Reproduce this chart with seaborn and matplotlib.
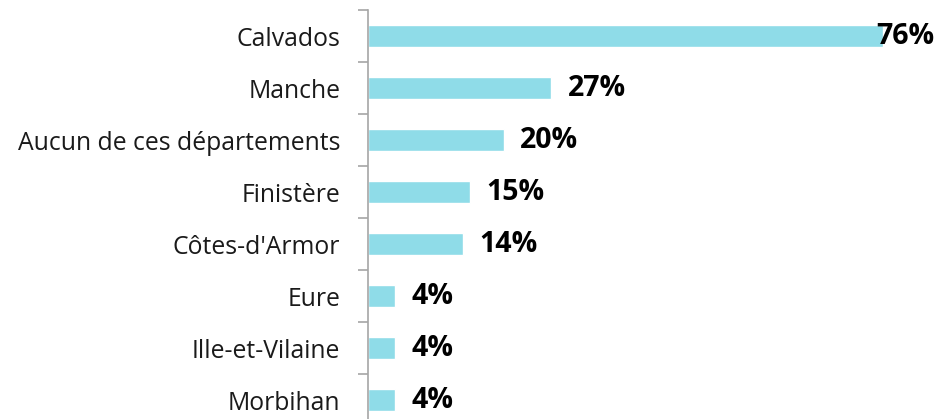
import matplotlib
matplotlib.use("Agg")
import matplotlib.pyplot as plt
import seaborn as sns
import pandas as pd
import numpy as np

categories = ["Calvados", "Manche", "Aucun de ces départements", "Finistère",
              "Côtes-d'Armor", "Eure", "Ille-et-Vilaine", "Morbihan"]
values = [76, 27, 20, 15, 14, 4, 4, 4]
value_labels = ["76%", "27%", "20%", "15%", "14%", "4%", "4%", "4%"]

df = pd.DataFrame({"dep": categories, "pct": values})

sns.set_theme(style="white")
plt.rcParams["font.family"] = ["Open Sans", "DejaVu Sans"]

W, H = 939, 419
fig = plt.figure(figsize=(W / 100, H / 100), dpi=100)
left_px, right_px, top_px = 368, 939, 10
ax = fig.add_axes([left_px / W, 0, (right_px - left_px) / W, 1 - top_px / H])

bar_color = "#8FDCE8"
sns.barplot(data=df, x="pct", y="dep", orient="h", color=bar_color,
            width=0.41, saturation=1, ax=ax)

ax.set_xlim(0, 84.2)
ax.set_ylim(7.365, -0.5)
ax.set_xlabel("")
ax.set_ylabel("")
ax.set_xticks([])

for s in ["top", "right", "bottom"]:
    ax.spines[s].set_visible(False)
ax.spines["left"].set_color("#A6A6A6")
ax.spines["left"].set_linewidth(1.2)

ax.set_yticks(range(len(categories)))
ax.set_yticklabels(categories, fontsize=17.8, color="#1a1a1a")
ax.tick_params(axis="y", which="major", left=True, length=0, pad=20)
ax.set_yticks(np.arange(-0.5, len(categories) - 0.5, 1), minor=True)
ax.tick_params(axis="y", which="minor", left=True, length=7, width=1.2,
               color="#A6A6A6")

# value labels to the right of each bar, kept inside the figure
fig.canvas.draw()
renderer = fig.canvas.get_renderer()
for i, (v, lab) in enumerate(zip(values, value_labels)):
    t = ax.annotate(lab, xy=(v, i), xytext=(12, 0), textcoords="offset points",
                    ha="left", va="center", fontsize=20.5, fontweight="bold",
                    color="black", annotation_clip=False)
    bb = t.get_window_extent(renderer)
    if bb.x1 > W - 4:
        t.remove()
        ax.annotate(lab, xy=(1, i), xycoords=("axes fraction", "data"),
                    xytext=(-3, 0), textcoords="offset points",
                    ha="right", va="center", fontsize=20.5, fontweight="bold",
                    color="black", annotation_clip=False)

fig.savefig("out.png", dpi=100)
